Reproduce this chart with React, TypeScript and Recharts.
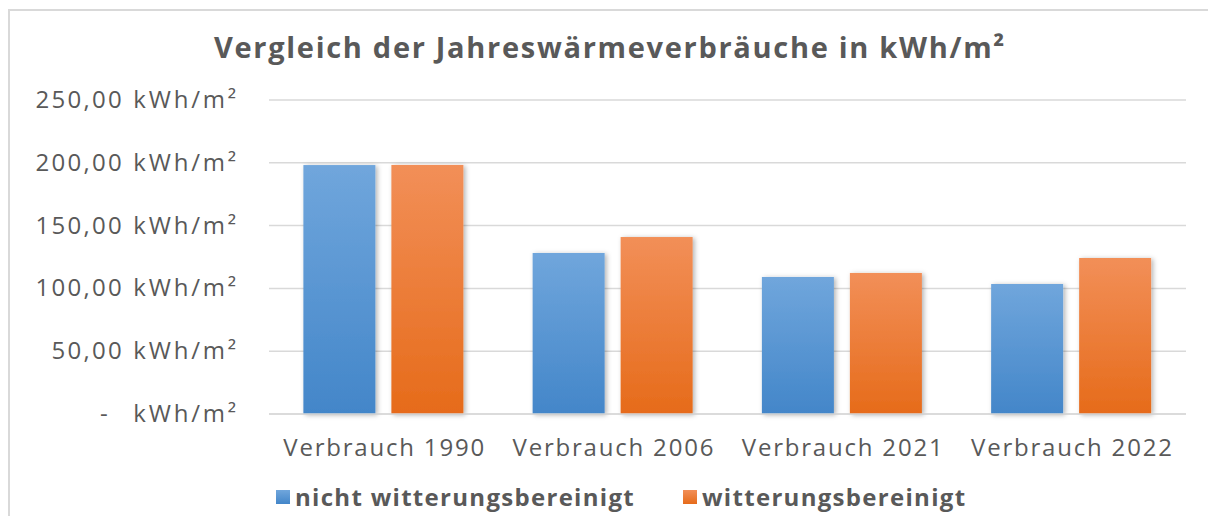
import React from "react";
import { BarChart, Bar, XAxis, YAxis, CartesianGrid } from "recharts";

const categories = ["Verbrauch 1990", "Verbrauch 2006", "Verbrauch 2021", "Verbrauch 2022"];
const nichtBereinigt = [198.2, 128.2, 109.1, 103.5];
const bereinigt = [198.3, 140.9, 112.3, 124.2];
const yTicks = [0, 50, 100, 150, 200, 250];
const unit = "kWh/m²";

const seriesNames = ["nicht witterungsbereinigt", "witterungsbereinigt"];

const data = categories.map((name, i) => ({
  name,
  nicht: nichtBereinigt[i],
  witt: bereinigt[i],
}));

const TEXT = "#595959";
const FONT = "'Open Sans', sans-serif";

function fmt(v: number) {
  if (v === 0) return "-";
  return v.toFixed(2).replace(".", ",");
}

function YTick(props: any) {
  const { y, payload } = props;
  const v = payload.value as number;
  return (
    <g>
      <text
        x={v === 0 ? 110 : 124}
        y={y + 8}
        textAnchor="end"
        fill={TEXT}
        fontFamily={FONT}
        fontSize={24}
        letterSpacing={2.3}
      >
        {fmt(v)}
      </text>
      <text x={239} y={y + 8} textAnchor="end" fill={TEXT} fontFamily={FONT} fontSize={24} letterSpacing={2.8}>
        {unit}
      </text>
    </g>
  );
}

function XTick(props: any) {
  const { x, y, payload } = props;
  return (
    <text x={x + 1} y={y + 34} textAnchor="middle" fill={TEXT} fontFamily={FONT} fontSize={24} letterSpacing={1.8}>
      {payload.value}
    </text>
  );
}

function ShadowBar(props: any) {
  const { x, y, width, height, fill } = props;
  if (!height || height <= 0) return null;
  return <rect x={x} y={y} width={width} height={height} fill={fill} filter="url(#barShadow)" />;
}

export default function App() {
  return (
    <div style={{ position: "absolute", left: 0, top: 0, width: 1208, height: 516, overflow: "hidden", background: "#fff" }}>
      <div
        style={{
          position: "absolute",
          left: 8,
          top: 9,
          width: 1220,
          height: 520,
          borderLeft: "2px solid #d9d9d9",
          borderTop: "2px solid #d9d9d9",
        }}
      />
      <div
        style={{
          position: "absolute",
          left: 0,
          top: 28,
          width: 1220,
          textAlign: "center",
          fontFamily: FONT,
          fontWeight: 700,
          fontSize: 29,
          letterSpacing: 1.7,
          color: TEXT,
          lineHeight: "38px",
        }}
      >
        Vergleich der Jahreswärmeverbräuche in kWh/m²
      </div>
      <div style={{ position: "absolute", left: 0, top: 0 }}>
        <BarChart
          width={1208}
          height={516}
          data={data}
          margin={{ top: 100, right: 22, bottom: 72, left: 0 }}
          barCategoryGap="15%"
          barGap={16}
        >
          <defs>
            <linearGradient id="blueGrad" x1="0" y1="0" x2="0" y2="1">
              <stop offset="0%" stopColor="#70a6dc" />
              <stop offset="100%" stopColor="#4386c9" />
            </linearGradient>
            <linearGradient id="orangeGrad" x1="0" y1="0" x2="0" y2="1">
              <stop offset="0%" stopColor="#f28f58" />
              <stop offset="100%" stopColor="#e66b1a" />
            </linearGradient>
            <filter id="barShadow" x="-20%" y="-10%" width="140%" height="120%">
              <feDropShadow dx="2" dy="1" stdDeviation="2.5" floodColor="#000" floodOpacity="0.3" />
            </filter>
          </defs>
          <CartesianGrid vertical={false} stroke="#d9d9d9" strokeWidth={1.5} />
          <XAxis
            dataKey="name"
            height={30}
            axisLine={{ stroke: "#d9d9d9", strokeWidth: 1.5 }}
            tickLine={false}
            tick={<XTick />}
            interval={0}
          />
          <YAxis
            width={269}
            domain={[0, 250]}
            ticks={yTicks}
            axisLine={false}
            tickLine={false}
            tick={<YTick />}
          />
          <Bar dataKey="nicht" name={seriesNames[0]} fill="url(#blueGrad)" shape={<ShadowBar />} isAnimationActive={false} />
          <Bar dataKey="witt" name={seriesNames[1]} fill="url(#orangeGrad)" shape={<ShadowBar />} isAnimationActive={false} />
        </BarChart>
      </div>
      <div
        style={{
          position: "absolute",
          top: 482,
          left: 276,
          display: "flex",
          alignItems: "center",
          fontFamily: FONT,
          fontWeight: 700,
          fontSize: 24,
          letterSpacing: 1.3,
          color: TEXT,
          lineHeight: "30px",
        }}
      >
        {seriesNames.map((n, i) => (
          <div key={n} style={{ display: "flex", alignItems: "center", marginRight: i === 0 ? 48 : 0 }}>
            <span
              style={{
                display: "inline-block",
                width: 14,
                height: 14,
                marginRight: 5,
                background: i === 0 ? "linear-gradient(#70a6dc, #4386c9)" : "linear-gradient(#f28f58, #e66b1a)",
              }}
            />
            <span>{n}</span>
          </div>
        ))}
      </div>
    </div>
  );
}
